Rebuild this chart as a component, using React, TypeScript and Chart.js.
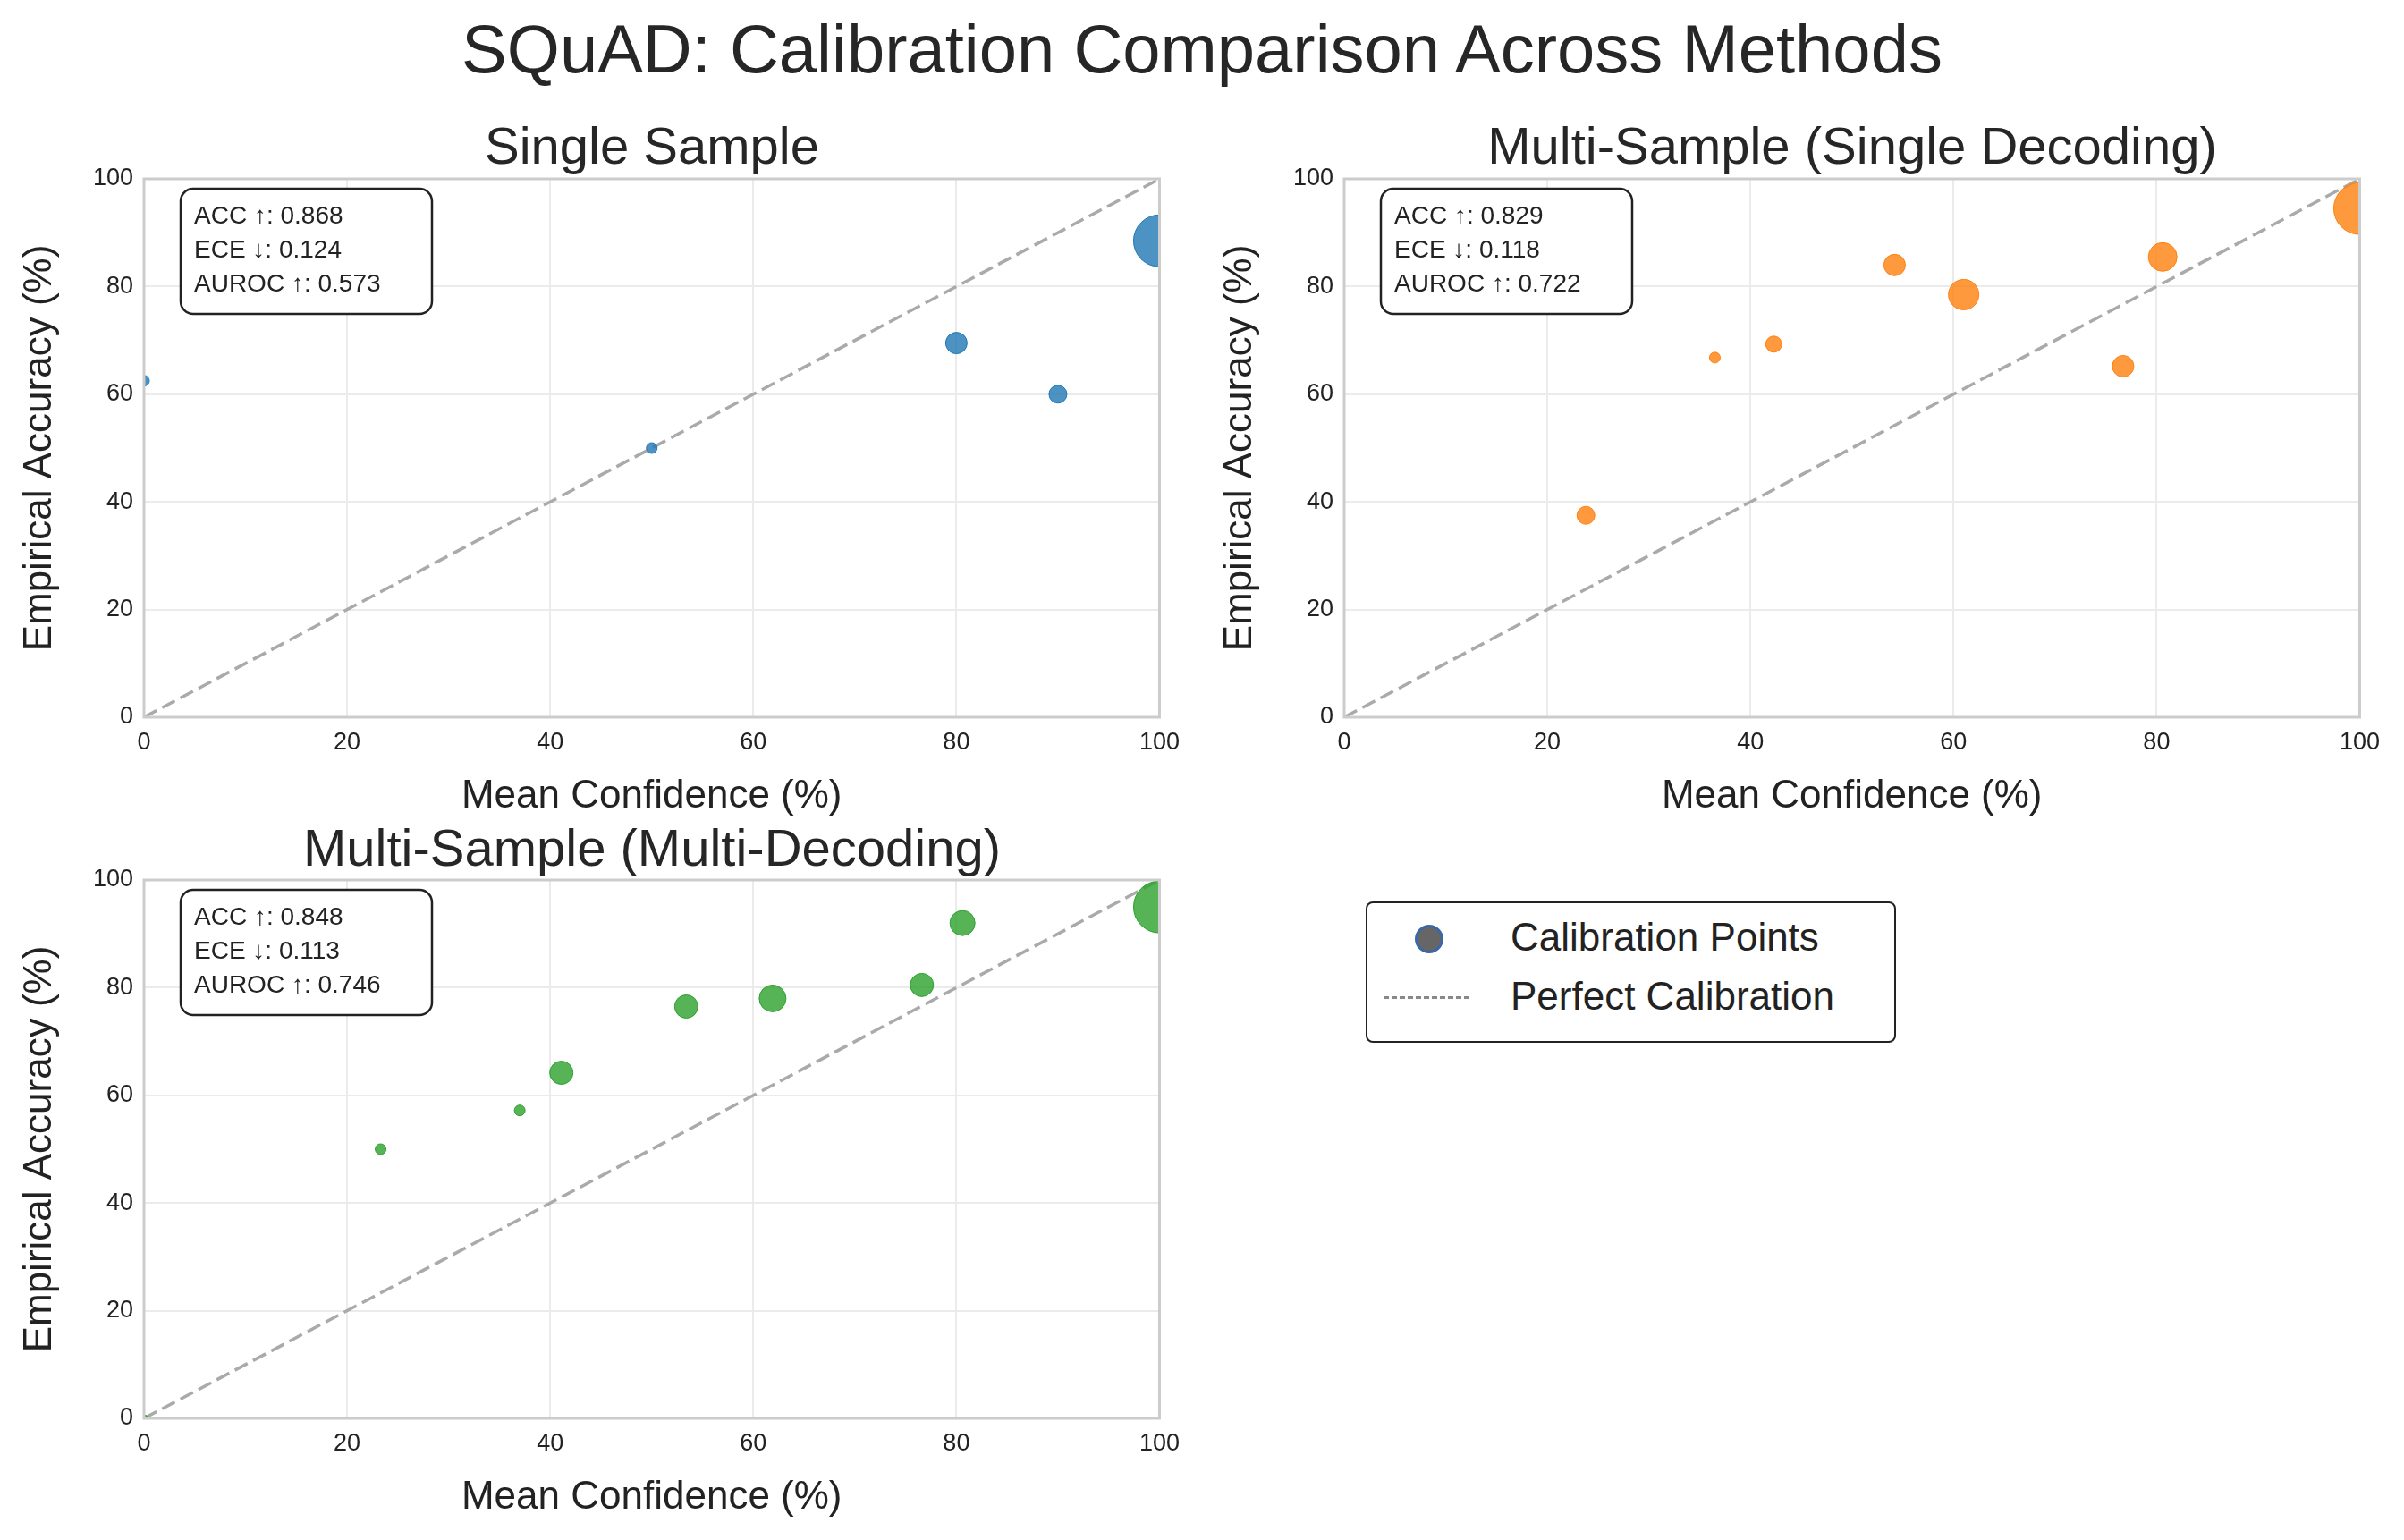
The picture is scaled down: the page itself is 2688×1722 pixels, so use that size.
import { useEffect, useRef } from "react"
import { Chart, registerables } from "chart.js"

Chart.register(...registerables)

const FONT = "'Liberation Sans', Arial, sans-serif"
const ticks = [0, 20, 40, 60, 80, 100]

// single sample
const singleConf = [0, 50, 80, 90, 100]
const singleAcc = [62.5, 50, 69.5, 60, 88.5]
const singleSize = [6, 6, 12, 10, 29]

// multi-sample, single decoding
const msdConf = [23.8, 36.5, 42.3, 54.2, 61, 76.7, 80.6, 100]
const msdAcc = [37.5, 66.8, 69.3, 84, 78.5, 65.2, 85.5, 94.5]
const msdSize = [10, 6, 9, 12, 17, 12, 16, 29]

// multi-sample, multi decoding
const mmdConf = [0, 23.3, 37, 41.1, 53.4, 61.9, 76.6, 80.6, 100]
const mmdAcc = [0, 50, 57.2, 64.2, 76.5, 78, 80.5, 92, 95]
const mmdSize = [4, 6, 6, 13, 13, 15, 13, 14, 29]

const metrics = {
  single: ["ACC ↑: 0.868", "ECE ↓: 0.124", "AUROC ↑: 0.573"],
  msd: ["ACC ↑: 0.829", "ECE ↓: 0.118", "AUROC ↑: 0.722"],
  mmd: ["ACC ↑: 0.848", "ECE ↓: 0.113", "AUROC ↑: 0.746"],
}

const W = 1331
const H = 800
const Wy = 161
const Ht = 80
const Hx = 118

interface SubPlotProps {
  left: number
  top: number
  conf: number[]
  acc: number[]
  size: number[]
  color: string
  lines: string[]
}

function SubPlot({ left, top, conf, acc, size, color, lines }: SubPlotProps) {
  const canvasRef = useRef<HTMLCanvasElement>(null)

  useEffect(() => {
    if (!canvasRef.current) return
    const frame = {
      id: "frame",
      afterDatasetsDraw(chart: any) {
        const { ctx, chartArea: a } = chart
        ctx.save()
        ctx.strokeStyle = "#cccccc"
        ctx.lineWidth = 3
        ctx.strokeRect(a.left, a.top, a.right - a.left, a.bottom - a.top)
        // metrics box
        const bx = a.left + 41
        const by = a.top + 11
        const bw = 281
        const bh = 140
        ctx.fillStyle = "white"
        ctx.strokeStyle = "#222"
        ctx.lineWidth = 2.5
        ctx.beginPath()
        ctx.roundRect(bx, by, bw, bh, 14)
        ctx.fill()
        ctx.stroke()
        ctx.fillStyle = "#222"
        ctx.font = `28px ${FONT}`
        ctx.textBaseline = "middle"
        lines.forEach((t, i) => ctx.fillText(t, bx + 15, by + 31 + i * 38))
        ctx.restore()
      },
    }
    const chart = new Chart(canvasRef.current, {
      type: "bubble",
      data: {
        datasets: [
          {
            type: "line",
            data: [{ x: 0, y: 0 }, { x: 100, y: 100 }],
            borderColor: "#aaaaaa",
            borderWidth: 3.5,
            borderDash: [16, 7],
            pointRadius: 0,
            order: 2,
          } as any,
          {
            data: conf.map((x, i) => ({ x, y: acc[i], r: size[i] })),
            backgroundColor: color + "cc",
            borderColor: color,
            borderWidth: 1,
            clip: 0,
            order: 1,
          },
        ],
      },
      options: {
        responsive: false,
        animation: false,
        layout: { padding: { top: Ht, right: 12 } },
        plugins: { legend: { display: false }, tooltip: { enabled: false } },
        scales: {
          x: {
            type: "linear",
            min: 0,
            max: 100,
            afterBuildTicks: (s: any) => { s.ticks = ticks.map((v) => ({ value: v })) },
            afterFit: (s: any) => { s.height = Hx },
            grid: { color: "#ebebeb", lineWidth: 2, drawTicks: false },
            border: { display: false },
            ticks: { color: "#222", font: { family: FONT, size: 27 }, padding: 12 },
            title: { display: true, text: "Mean Confidence (%)", color: "#222", font: { family: FONT, size: 44 }, padding: { top: 0, bottom: 3 } },
          },
          y: {
            type: "linear",
            min: 0,
            max: 100,
            afterBuildTicks: (s: any) => { s.ticks = ticks.map((v) => ({ value: v })) },
            afterFit: (s: any) => { s.width = Wy },
            grid: { color: "#ebebeb", lineWidth: 2, drawTicks: false },
            border: { display: false },
            ticks: { color: "#222", font: { family: FONT, size: 27 }, padding: 12 },
            title: { display: true, text: "Empirical Accuracy (%)", color: "#222", font: { family: FONT, size: 44 }, padding: { top: 18, bottom: 0 } },
          },
        },
      },
      plugins: [frame],
    })
    return () => chart.destroy()
  }, [conf, acc, size, color, lines])

  return (
    <canvas
      ref={canvasRef}
      width={W}
      height={H}
      style={{ position: "absolute", left, top, width: W, height: H }}
    />
  )
}

const titleStyle = (cx: number, cy: number, size: number): React.CSSProperties => ({
  position: "absolute",
  left: cx - 1000,
  width: 2000,
  top: cy - size * 0.6,
  lineHeight: `${size * 1.2}px`,
  fontSize: size,
  textAlign: "center",
  color: "#262626",
  fontFamily: FONT,
  whiteSpace: "nowrap",
})

export default function App() {
  return (
    <div style={{ position: "absolute", left: 0, top: 0, width: 2688, height: 1722, background: "white", overflow: "hidden" }}>
      <div style={titleStyle(1344, 55, 76)}>SQuAD: Calibration Comparison Across Methods</div>
      <div style={titleStyle(729, 163, 58)}>Single Sample</div>
      <div style={titleStyle(2071, 163, 58)}>Multi-Sample (Single Decoding)</div>
      <div style={titleStyle(729, 948, 58)}>Multi-Sample (Multi-Decoding)</div>
      <SubPlot left={0} top={120} conf={singleConf} acc={singleAcc} size={singleSize} color="#1f77b4" lines={metrics.single} />
      <SubPlot left={1342} top={120} conf={msdConf} acc={msdAcc} size={msdSize} color="#ff7f0e" lines={metrics.msd} />
      <SubPlot left={0} top={904} conf={mmdConf} acc={mmdAcc} size={mmdSize} color="#2ca02c" lines={metrics.mmd} />
      <div
        style={{
          position: "absolute", left: 1527, top: 1008, width: 593, height: 158, boxSizing: "border-box",
          border: "2.5px solid #222", borderRadius: 8, fontFamily: FONT, fontSize: 44, color: "#222",
        }}
      >
        <div style={{ position: "absolute", left: 53, top: 24, width: 26, height: 26, borderRadius: "50%", background: "#666", border: "3px solid #3b66a8" }} />
        <div style={{ position: "absolute", left: 160, top: 12, lineHeight: "52px" }}>Calibration Points</div>
        <div style={{ position: "absolute", left: 18, top: 104, width: 96, height: 0, backgroundImage: "none", borderTop: "3.5px dashed #888" }} />
        <div style={{ position: "absolute", left: 160, top: 78, lineHeight: "52px" }}>Perfect Calibration</div>
      </div>
    </div>
  )
}
